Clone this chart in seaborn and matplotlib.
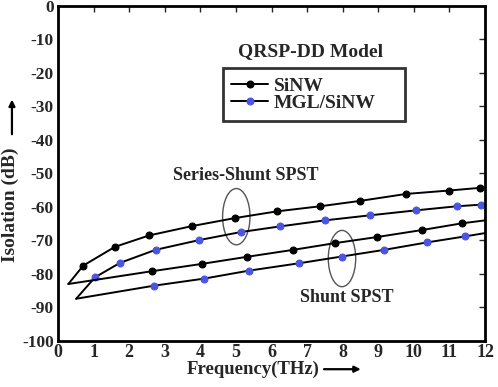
import matplotlib.pyplot as plt
import seaborn as sns
from matplotlib.patches import Ellipse, FancyArrowPatch

# Series-Shunt SPST (marker points)
sinw_ss_x = [0.71, 1.60, 2.56, 3.77, 4.98, 6.16, 7.36, 8.48, 9.79, 10.98, 11.85]
sinw_ss_y = [-77.5, -71.9, -68.5, -65.7, -63.3, -61.3, -59.8, -58.2, -56.1, -55.1, -54.3]
mgl_ss_x = [1.04, 1.74, 2.74, 3.96, 5.13, 6.24, 7.50, 8.76, 10.07, 11.20, 11.90]
mgl_ss_y = [-81.0, -76.7, -72.8, -69.9, -67.5, -65.8, -64.0, -62.5, -61.0, -59.8, -59.3]

# Shunt SPST (marker points)
sinw_sh_x = [2.63, 4.04, 5.30, 6.61, 7.78, 8.95, 10.22, 11.34]
sinw_sh_y = [-79.2, -77.0, -74.9, -72.8, -70.8, -69.0, -66.9, -64.9]
mgl_sh_x = [2.70, 4.10, 5.37, 6.78, 7.97, 9.17, 10.36, 11.43]
mgl_sh_y = [-83.5, -81.4, -79.0, -76.8, -74.8, -72.8, -70.6, -68.8]

# common start point of each pair and end of the shunt curves
sinw_start = (0.29, -83.0)
mgl_start = (0.51, -87.4)
sinw_sh_end = (12.0, -64.0)
mgl_sh_end = (12.0, -67.8)

xticks = list(range(0, 13))
yticks = list(range(-100, 1, 10))

BLUE = "#4a55e0"

sns.set_theme(style="white")
plt.rcParams['font.family'] = ['Liberation Serif', 'DejaVu Serif']
plt.rcParams['font.weight'] = 'bold'
plt.rcParams['axes.unicode_minus'] = False

fig = plt.figure(figsize=(4.98, 3.87), dpi=100)
ax = fig.add_axes([0.1165, 0.119, 0.8575, 0.8655])


def curve(start, xs, ys, end, color, label=None):
    lx = [start[0]] + xs + ([end[0]] if end else [])
    ly = [start[1]] + ys + ([end[1]] if end else [])
    sns.lineplot(x=lx, y=ly, sort=False, color="black", lw=1.4, ax=ax,
                 marker="o", markersize=5, markerfacecolor=color,
                 markeredgecolor=color, markevery=list(range(1, len(xs) + 1)),
                 label=label, estimator=None)


curve(sinw_start, sinw_ss_x, sinw_ss_y, None, "black", "SiNW")
curve(mgl_start, mgl_ss_x, mgl_ss_y, None, BLUE, "MGL/SiNW")
curve(sinw_start, sinw_sh_x, sinw_sh_y, sinw_sh_end, "black")
curve(mgl_start, mgl_sh_x, mgl_sh_y, mgl_sh_end, BLUE)

ax.set_xlim(0, 12)
ax.set_ylim(-100, 0)
ax.set_xticks(xticks)
ax.set_yticks(yticks)
ax.tick_params(axis="x", labelsize=13, direction="in", top=True, length=4, width=1, pad=2)
ax.tick_params(axis="y", labelsize=12.5, direction="in", right=True, length=4, width=1, pad=3)
for s in ax.spines.values():
    s.set_linewidth(2)
    s.set_color("black")
ax.set_xlabel("")
ax.set_ylabel("")

# ellipses marking the curve groups
ax.add_patch(Ellipse((5.01, -62.9), 0.77, 16.8, fill=False, ec="#555555", lw=1))
ax.add_patch(Ellipse((7.98, -75.4), 0.77, 16.8, fill=False, ec="#555555", lw=1))
ax.text(5.28, -50.6, "Series-Shunt SPST", ha="center", va="center", fontsize=13, fontweight="bold")
ax.text(8.11, -87.0, "Shunt SPST", ha="center", va="center", fontsize=13, fontweight="bold")
ax.text(7.11, -13.5, "QRSP-DD Model", ha="center", va="center", fontsize=14, fontweight="bold")

leg = ax.legend(loc="upper left", bbox_to_anchor=(0.447, 0.674, 0.366, 0.1495),
                bbox_transform=fig.transFigure, mode="expand",
                fontsize=14, frameon=True, fancybox=False, edgecolor="black",
                handlelength=1.9, handletextpad=0.3, borderpad=0.45, labelspacing=0.0,
                borderaxespad=0)
leg.get_frame().set_linewidth(2)

# axis labels with arrows
fig.text(0.021, 0.47, "Isolation (dB)", rotation=90, ha="center", va="center",
         fontsize=14, fontweight="bold")
fig.patches.append(FancyArrowPatch(
    (0.024, 0.646), (0.024, 0.75), transform=fig.transFigure, arrowstyle="-|>",
    mutation_scale=9, lw=1.6, color="black"))
fig.text(0.509, 0.046, "Frequency(THz)", ha="center", va="center", fontsize=13.5, fontweight="bold")
fig.patches.append(FancyArrowPatch(
    (0.645, 0.046), (0.73, 0.046), transform=fig.transFigure, arrowstyle="-|>",
    mutation_scale=9, lw=1.6, color="black"))

fig.savefig("out.png", dpi=100)
